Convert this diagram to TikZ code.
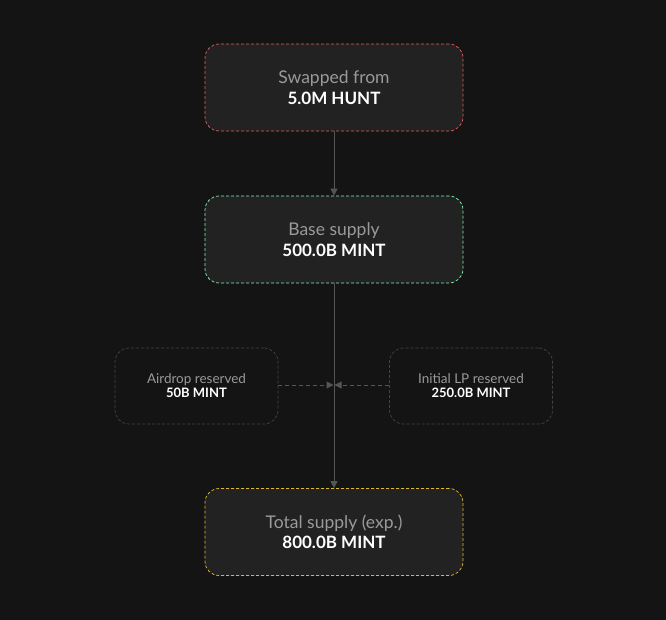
\documentclass[tikz,border=0pt]{standalone}
\usepackage{fontspec}
\setmainfont{Lato}
\usetikzlibrary{arrows.meta}
\definecolor{bg}{HTML}{141414}
\definecolor{boxfill}{HTML}{222222}
\definecolor{lbl}{HTML}{9A9A9A}
\definecolor{ln}{HTML}{555555}
\definecolor{redb}{HTML}{E06060}
\definecolor{greenb}{HTML}{8AF0B0}
\definecolor{yellowb}{HTML}{E0B830}
\definecolor{grayb}{HTML}{444444}
\tikzset{
 bigbox/.style={draw, dashed, fill=boxfill, rounded corners=14pt, minimum width=258pt, minimum height=87pt, align=center, line width=0.7pt, dash pattern=on 3pt off 2pt},
 smallbox/.style={draw=grayb, dashed, rounded corners=14pt, minimum width=163pt, minimum height=76pt, align=center, line width=0.7pt, dash pattern=on 3pt off 2pt},
 conn/.style={draw=ln, line width=0.8pt, -{Triangle[length=7pt,width=7pt]}},
 dconn/.style={conn, dash pattern=on 4pt off 3pt},
}
\newcommand{\bt}[2]{{\fontsize{17.5}{21}\selectfont\color{lbl}#1}\\[4pt]{\fontsize{17}{21}\selectfont\bfseries\color{white}#2}}
\newcommand{\st}[2]{{\fontsize{13.5}{16}\selectfont\color{lbl}#1}\\[2pt]{\fontsize{13}{16}\selectfont\bfseries\color{white}#2}}
\begin{document}
\begin{tikzpicture}[x=1pt,y=-1pt]
\fill[bg] (0,0) rectangle (666,620);
\useasboundingbox (0,0) rectangle (666,620);
\node[bigbox, draw=redb] (swap) at (334,87.5) {\bt{Swapped from}{5.0M HUNT}};
\node[bigbox, draw=greenb] (base) at (334,239.5) {\bt{Base supply}{500.0B MINT}};
\node[smallbox] (air) at (196.5,386) {\st{Airdrop reserved}{50B MINT}};
\node[smallbox] (lp) at (471,386) {\st{Initial LP reserved}{250.0B MINT}};
\node[bigbox, draw=yellowb] (tot) at (334,532) {\bt{Total supply (exp.)}{800.0B MINT}};
\coordinate (m) at (334,385);
\draw[conn] (swap) -- (base);
\draw[conn] (base) -- (tot);
\draw[dconn] (air.east |- m) -- ([xshift=-0.5pt]m);
\draw[dconn] (lp.west |- m) -- ([xshift=0.5pt]m);
\end{tikzpicture}
\end{document}
